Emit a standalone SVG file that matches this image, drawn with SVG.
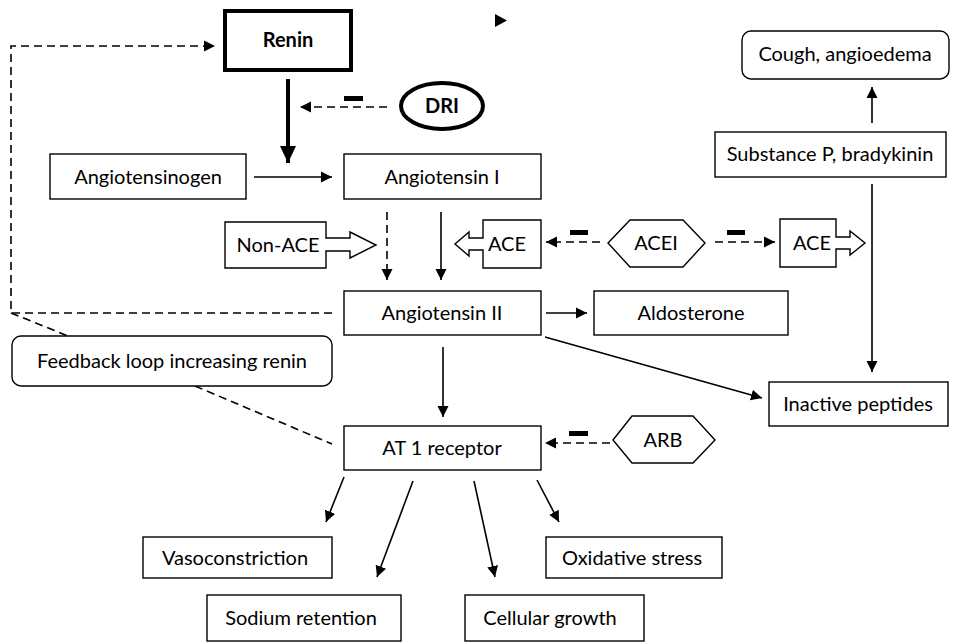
<svg xmlns="http://www.w3.org/2000/svg" width="957" height="644" viewBox="0 0 957 644">
<style>
.box{fill:#fff;stroke:#000;stroke-width:1.4}
.t{font-family:Lato,"Liberation Sans",sans-serif;font-size:20px;fill:#000;text-anchor:middle}
.b{font-weight:bold}
.ln{stroke:#000;stroke-width:1.6;fill:none}
.ds{stroke-dasharray:8 5}
.bar{fill:#000}
</style>
<defs>
<marker id="ah" markerUnits="userSpaceOnUse" markerWidth="12" markerHeight="12" refX="11" refY="6" orient="auto">
<path d="M0,0.5 L11,6 L0,11.5 z" fill="#000"/>
</marker>
<marker id="ahb" markerUnits="userSpaceOnUse" markerWidth="18" markerHeight="18" refX="17" refY="8" orient="auto">
<path d="M0,0 L17,8 L0,16 z" fill="#000"/>
</marker>
</defs>
<rect width="957" height="644" fill="#fff"/>

<g id="connectors">
<path class="ln ds" d="M332,313 H11 V46 H215" marker-end="url(#ah)"/>
<path class="ln ds" d="M11,313 L68,336"/>
<path class="ln ds" d="M195,386 L332,444"/>
<path d="M288,79 V163" stroke="#000" stroke-width="4" fill="none" marker-end="url(#ahb)"/>
<path class="ln ds" d="M387,107 H300" marker-end="url(#ah)"/>
<rect class="bar" x="344" y="96" width="19" height="5"/>
<path class="ln" d="M254,177 H332" marker-end="url(#ah)"/>
<path class="ln ds" d="M387,212 V280" marker-end="url(#ah)"/>
<path class="ln" d="M441,212 V280" marker-end="url(#ah)"/>
<path class="ln ds" d="M600,242 H546" marker-end="url(#ah)"/>
<rect class="bar" x="570" y="230" width="18" height="5"/>
<path class="ln ds" d="M715,242 H775" marker-end="url(#ah)"/>
<rect class="bar" x="727" y="230" width="18" height="5"/>
<path class="ln" d="M546,313 H587" marker-end="url(#ah)"/>
<path class="ln" d="M545,337 L762,398" marker-end="url(#ah)"/>
<path class="ln" d="M872,184 V372" marker-end="url(#ah)"/>
<path class="ln" d="M872,123 V87" marker-end="url(#ah)"/>
<path class="ln" d="M443,347 V417" marker-end="url(#ah)"/>
<path class="ln ds" d="M610,443 H545" marker-end="url(#ah)"/>
<rect class="bar" x="569" y="431" width="19" height="5"/>
<path class="ln" d="M344,477 L326,522" marker-end="url(#ah)"/>
<path class="ln" d="M413,481 L377,577" marker-end="url(#ah)"/>
<path class="ln" d="M474,481 L495,577" marker-end="url(#ah)"/>
<path class="ln" d="M537,480 L559,522" marker-end="url(#ah)"/>
<polygon points="495,14 507,20.5 495,27" fill="#000"/>
</g>

<g id="renin">
<rect x="225" y="11" width="126" height="59" fill="#fff" stroke="#000" stroke-width="4"/>
<text class="t b" x="288" y="47">Renin</text>
</g>
<g id="dri">
<ellipse cx="442" cy="106" rx="41" ry="23" fill="#fff" stroke="#000" stroke-width="4"/>
<text class="t b" x="442" y="113">DRI</text>
</g>
<g id="angiotensinogen">
<rect class="box" x="50" y="154" width="196" height="45"/>
<text class="t" x="148" y="184">Angiotensinogen</text>
</g>
<g id="angiotensin1">
<rect class="box" x="344" y="154" width="197" height="45"/>
<text class="t" x="442" y="184">Angiotensin I</text>
</g>
<g id="nonace">
<path class="box" d="M225,222 H326 V238 H350 V232 L376,245 L350,258 V251 H326 V268 H225 Z"/>
<text class="t" x="278" y="252">Non-ACE</text>
</g>
<g id="ace1">
<path class="box" d="M541,220 H483 V238 H469 V232 L455,244 L469,256 V250 H483 V268 H541 Z"/>
<text class="t" x="507" y="251">ACE</text>
</g>
<g id="acei">
<polygon class="box" points="608,243 630,220 683,220 705,243 683,267 630,267"/>
<text class="t" x="656" y="250">ACEI</text>
</g>
<g id="ace2">
<path class="box" d="M780,219 H836 V237 H850 V231 L865,243 L850,255 V249 H836 V267 H780 Z"/>
<text class="t" x="812" y="250">ACE</text>
</g>
<g id="cough">
<rect class="box" x="742" y="31" width="207" height="48" rx="9"/>
<text class="t" x="845" y="61">Cough, angioedema</text>
</g>
<g id="substancep">
<rect class="box" x="715" y="132" width="231" height="45"/>
<text class="t" x="830" y="161">Substance P, bradykinin</text>
</g>
<g id="angiotensin2">
<rect class="box" x="344" y="291" width="197" height="44"/>
<text class="t" x="442" y="320">Angiotensin II</text>
</g>
<g id="aldosterone">
<rect class="box" x="594" y="291" width="194" height="44"/>
<text class="t" x="691" y="320">Aldosterone</text>
</g>
<g id="feedback">
<rect class="box" x="12" y="336" width="320" height="50" rx="9"/>
<text class="t" x="172" y="368">Feedback loop increasing renin</text>
</g>
<g id="inactive">
<rect class="box" x="769" y="382" width="179" height="44"/>
<text class="t" x="858" y="411">Inactive peptides</text>
</g>
<g id="at1">
<rect class="box" x="344" y="426" width="197" height="44"/>
<text class="t" x="442" y="455">AT 1 receptor</text>
</g>
<g id="arb">
<polygon class="box" points="613,440 632,416 693,416 715,440 693,463 632,463"/>
<text class="t" x="663" y="447">ARB</text>
</g>
<g id="vasoconstriction">
<rect class="box" x="143" y="537" width="189" height="41"/>
<text class="t" x="235" y="565">Vasoconstriction</text>
</g>
<g id="oxidative">
<rect class="box" x="546" y="537" width="176" height="41"/>
<text class="t" x="632" y="565">Oxidative stress</text>
</g>
<g id="sodium">
<rect class="box" x="207" y="595" width="194" height="46"/>
<text class="t" x="301" y="625">Sodium retention</text>
</g>
<g id="cellular">
<rect class="box" x="465" y="595" width="179" height="46"/>
<text class="t" x="550" y="625">Cellular growth</text>
</g>
</svg>
